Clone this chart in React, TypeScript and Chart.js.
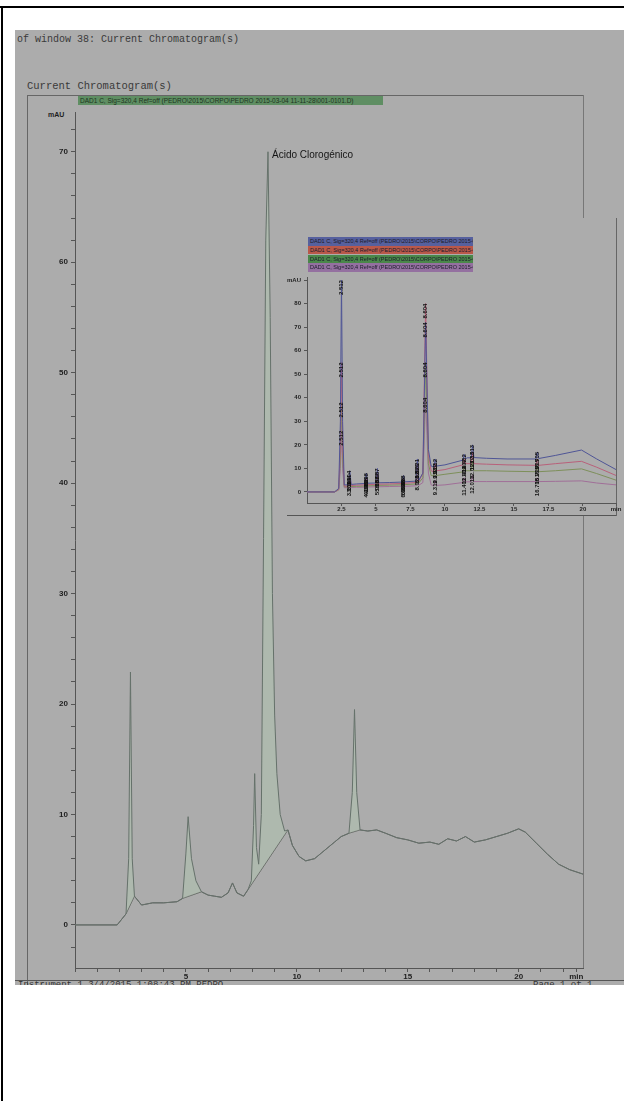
import React, { useEffect, useRef } from "react";
import { Chart, registerables } from "chart.js";
Chart.register(...registerables);

// ---------- main chromatogram ----------
const mainTimes = [0, 1.9, 2.3, 2.42, 2.5, 2.58, 2.68, 3.0, 3.5, 4.0, 4.6, 4.85, 5.0, 5.1, 5.25, 5.45, 5.7, 6.0, 6.3, 6.6, 6.9, 7.1, 7.3, 7.6, 7.8, 7.95, 8.05, 8.1, 8.18, 8.28, 8.4, 8.5, 8.6, 8.7, 8.8, 8.9, 9.0, 9.1, 9.25, 9.45, 9.6, 9.8, 10.1, 10.4, 10.8, 11.1, 11.4, 11.7, 12.0, 12.35, 12.5, 12.6, 12.7, 12.85, 13.2, 13.6, 14.0, 14.5, 15.0, 15.5, 16.0, 16.4, 16.8, 17.2, 17.6, 18.0, 18.5, 19.0, 19.5, 20.0, 20.3, 20.8, 21.3, 21.8, 22.3, 22.9];
const mainSignal = [0, 0, 1.0, 6, 22.9, 6, 2.6, 1.8, 2.0, 2.0, 2.1, 2.4, 6.5, 9.8, 6.0, 4.0, 3.0, 2.7, 2.6, 2.5, 2.9, 3.8, 2.9, 2.6, 3.2, 4.0, 9, 13.7, 7, 5.5, 10, 35, 62, 70, 55, 30, 19, 13.7, 10, 8.5, 8.6, 7.2, 6.2, 5.8, 6.0, 6.5, 7.0, 7.5, 8.0, 8.3, 12, 19.5, 12, 8.6, 8.5, 8.6, 8.3, 7.9, 7.7, 7.4, 7.5, 7.3, 7.8, 7.6, 8.0, 7.5, 7.7, 8.0, 8.3, 8.7, 8.4, 7.4, 6.4, 5.5, 5.0, 4.6];
// integration baseline (straight under the peaks, on the trace elsewhere)
const baseTimes = [0, 1.9, 2.3, 2.68, 3.0, 3.5, 4.0, 4.6, 4.85, 5.7, 6.0, 6.3, 6.6, 6.9, 7.1, 7.3, 7.6, 7.8, 9.6, 9.8, 10.1, 10.4, 10.8, 11.1, 11.4, 11.7, 12.0, 12.35, 12.85, 13.2, 13.6, 14.0, 14.5, 15.0, 15.5, 16.0, 16.4, 16.8, 17.2, 17.6, 18.0, 18.5, 19.0, 19.5, 20.0, 20.3, 20.8, 21.3, 21.8, 22.3, 22.9];
const baseSignal = [0, 0, 1.0, 2.6, 1.8, 2.0, 2.0, 2.1, 2.4, 3.0, 2.7, 2.6, 2.5, 2.9, 3.8, 2.9, 2.6, 3.2, 8.6, 7.2, 6.2, 5.8, 6.0, 6.5, 7.0, 7.5, 8.0, 8.3, 8.6, 8.5, 8.6, 8.3, 7.9, 7.7, 7.4, 7.5, 7.3, 7.8, 7.6, 8.0, 7.5, 7.7, 8.0, 8.3, 8.7, 8.4, 7.4, 6.4, 5.5, 5.0, 4.6];
const mainYLabels = [0, 10, 20, 30, 40, 50, 60, 70];
const mainXLabels = [5, 10, 15, 20];
const peakName = "Ácido Clorogénico";
const peakNameTime = 8.7;
const peakNameValue = 70;

// ---------- inset overlay (4 runs) ----------
const insetTimes = [0, 2.0, 2.3, 2.42, 2.5, 2.58, 2.7, 3.0, 3.1, 3.2, 3.6, 4.2, 4.3, 4.4, 5.0, 5.1, 5.2, 6.0, 6.9, 7.0, 7.1, 7.9, 8.0, 8.1, 8.4, 8.5, 8.6, 8.7, 8.8, 9.0, 9.2, 9.3, 9.4, 10.0, 11.3, 11.4, 11.5, 11.6, 11.9, 12.0, 12.1, 13.0, 14.5, 16.6, 16.7, 16.8, 18.0, 19.9, 21.0, 22.4];
const insetBlue = [0, 0, 1.5, 30, 90, 30, 3, 3, 9, 3.2, 3.4, 3.6, 8, 3.7, 3.8, 10, 3.9, 4.0, 4.2, 7, 4.3, 4.6, 14, 5, 8, 40, 72, 45, 18, 11, 10.5, 14, 11, 11.5, 13.5, 16, 14, 14.5, 14.5, 20, 14.6, 14.3, 14, 14, 17, 14.2, 15.5, 17.8, 14, 9.5];
const insetRed = [0, 0, 1.2, 20, 55, 20, 2.5, 2.5, 7, 2.7, 2.9, 3.0, 6, 3.1, 3.2, 8, 3.3, 3.4, 3.6, 6, 3.7, 4.0, 12, 4.4, 8, 45, 80, 48, 16, 9, 8.5, 12, 9, 9.5, 11.5, 14, 12, 12, 12, 17, 12, 11.8, 11.5, 11.3, 14, 11.3, 12, 13, 10.5, 7];
const insetGreen = [0, 0, 1, 14, 38, 14, 2.2, 2.2, 6, 2.3, 2.4, 2.5, 5, 2.6, 2.7, 6.5, 2.8, 2.9, 3.0, 5, 3.1, 3.4, 10, 3.8, 6, 30, 55, 33, 12, 7, 6.8, 10, 7, 7.5, 8.5, 11, 9, 9, 9, 13, 9, 9, 8.8, 8.6, 11, 8.6, 9, 9.8, 7.8, 5];
const insetPurple = [0, 0, 0.8, 10, 26, 10, 1.8, 1.8, 4.5, 1.9, 2.0, 2.0, 4, 2.1, 2.2, 5, 2.2, 2.3, 2.4, 4, 2.4, 2.6, 7, 2.8, 4, 22, 40, 24, 8, 3, 2.6, 5, 2.8, 3, 4, 6, 4.2, 4.3, 4.3, 7, 4.4, 4.4, 4.4, 4.4, 6, 4.4, 4.5, 4.7, 3.8, 3];
const insetNames = [
  "DAD1 C, Sig=320,4 Ref=off (PEDRO\\2015\\CORPO\\PEDRO 2015-03-04 11-11-28\\001-0101.D)",
  "DAD1 C, Sig=320,4 Ref=off (PEDRO\\2015\\CORPO\\PEDRO 2015-03-04 11-11-28\\002-0201.D)",
  "DAD1 C, Sig=320,4 Ref=off (PEDRO\\2015\\CORPO\\PEDRO 2015-03-04 11-11-28\\003-0301.D)",
  "DAD1 C, Sig=320,4 Ref=off (PEDRO\\2015\\CORPO\\PEDRO 2015-03-04 11-11-28\\004-0401.D)",
];
const insetLineColors = ["#4f5596", "#b8607a", "#7d8f5a", "#a06f98"];
const insetLegendColors = ["#56609e", "#b9584a", "#4a874a", "#9470a0"];
const insetPeakTimes = [2.5, 3.1, 4.3, 5.1, 7.0, 8.0, 8.6, 9.3, 11.4, 12.0, 16.7];
const insetPeakLabels = ["2.512", "3.104", "4.298", "5.087", "6.998", "8.021", "8.604", "9.312", "11.402", "12.013", "16.705"];
const insetYLabels = [0, 10, 20, 30, 40, 50, 60, 70, 80];
const insetXLabels = [2.5, 5, 7.5, 10, 12.5, 15, 17.5, 20];

const FONT = '"Liberation Sans", Arial, sans-serif';
const MONO = '"Liberation Mono", "DejaVu Sans Mono", monospace';

function pts(xs: number[], ys: number[]) {
  return xs.map((x, i) => ({ x, y: ys[i] }));
}

const peakNamePlugin = {
  id: "peakName",
  afterDatasetsDraw(chart: any) {
    const { ctx, scales } = chart;
    const x = scales.x.getPixelForValue(peakNameTime);
    const y = scales.y.getPixelForValue(peakNameValue);
    ctx.save();
    ctx.font = `10px ${FONT}`;
    ctx.fillStyle = "#151515";
    ctx.textBaseline = "middle";
    ctx.textAlign = "left";
    ctx.fillText(peakName, x + 4, y + 3);
    ctx.restore();
  },
};

const insetLabelPlugin = {
  id: "insetLabels",
  afterDatasetsDraw(chart: any) {
    const { ctx, scales } = chart;
    ctx.save();
    ctx.font = `bold 6px ${FONT}`;
    ctx.fillStyle = "#111";
    ctx.textBaseline = "middle";
    ctx.textAlign = "right";
    chart.data.datasets.forEach((ds: any) => {
      insetPeakTimes.forEach((t, k) => {
        const idx = insetTimes.indexOf(t);
        if (idx < 0) return;
        const v = ds.data[idx].y;
        const x = scales.x.getPixelForValue(t);
        const y = Math.max(scales.y.getPixelForValue(v), chart.chartArea.top);
        ctx.save();
        ctx.translate(x, y);
        ctx.rotate(-Math.PI / 2);
        ctx.fillText(insetPeakLabels[k], 0, 0);
        ctx.restore();
      });
    });
    ctx.restore();
  },
};

export default function App() {
  const mainRef = useRef<HTMLCanvasElement | null>(null);
  const insetRef = useRef<HTMLCanvasElement | null>(null);

  useEffect(() => {
    const axisColor = "#555";
    const main = new Chart(mainRef.current!, {
      type: "line",
      data: {
        datasets: [
          {
            label: "DAD1 C, Sig=320,4",
            data: pts(mainTimes, mainSignal),
            borderColor: "#65716a",
            borderWidth: 1,
            pointRadius: 0,
            tension: 0,
            fill: { target: 1, above: "rgba(178,208,178,0.35)", below: "rgba(178,208,178,0.35)" },
          },
          {
            label: "baseline",
            data: pts(baseTimes, baseSignal),
            borderColor: "#626262",
            borderWidth: 1,
            pointRadius: 0,
            tension: 0,
            fill: false,
          },
        ],
      },
      options: {
        animation: false,
        responsive: false,
        maintainAspectRatio: false,
        events: [],
        layout: { padding: { left: 40, right: 41, top: 112, bottom: 12 } },
        plugins: { legend: { display: false }, tooltip: { enabled: false } },
        scales: {
          x: {
            type: "linear",
            min: 0,
            max: 22.9,
            afterBuildTicks: (s: any) => {
              const t: any[] = [];
              for (let i = 0; i <= 22; i++) t.push({ value: i });
              t.push({ value: 22.6 });
              s.ticks = t;
            },
            afterFit: (s: any) => {
              s.height = 20;
            },
            ticks: {
              autoSkip: false,
              maxRotation: 0,
              padding: 0,
              color: "#1e1e1e",
              font: { size: 8, weight: "bold", family: FONT },
              callback: (v: any) => (v === 22.6 ? "min" : mainXLabels.includes(v) ? String(v) : ""),
            },
            grid: { drawOnChartArea: false, tickLength: 4, color: axisColor },
            border: { color: axisColor },
          },
          y: {
            type: "linear",
            min: -3.9,
            max: 73.6,
            afterBuildTicks: (s: any) => {
              const t: any[] = [];
              for (let i = -2; i <= 72; i += 2) t.push({ value: i });
              s.ticks = t;
            },
            afterFit: (s: any) => {
              s.width = 35;
            },
            ticks: {
              autoSkip: false,
              padding: 3,
              color: "#1e1e1e",
              font: { size: 8, weight: "bold", family: FONT },
              callback: (v: any) => (mainYLabels.includes(v) ? String(v) : ""),
            },
            grid: { drawOnChartArea: false, tickLength: 4, color: axisColor },
            border: { color: axisColor },
          },
        },
      },
      plugins: [peakNamePlugin],
    } as any);

    const inset = new Chart(insetRef.current!, {
      type: "line",
      data: {
        datasets: [insetBlue, insetRed, insetGreen, insetPurple].map((arr, i) => ({
          label: insetNames[i],
          data: pts(insetTimes, arr),
          borderColor: insetLineColors[i],
          borderWidth: 1,
          pointRadius: 0,
          tension: 0,
          fill: false,
        })),
      },
      options: {
        animation: false,
        responsive: false,
        maintainAspectRatio: false,
        events: [],
        layout: { padding: { left: 7, right: 8, top: 57, bottom: 5 } },
        plugins: { legend: { display: false }, tooltip: { enabled: false } },
        scales: {
          x: {
            type: "linear",
            min: 0,
            max: 22.4,
            afterBuildTicks: (s: any) => {
              s.ticks = insetXLabels.map((v) => ({ value: v })).concat([{ value: 22.4 }]);
            },
            afterFit: (s: any) => {
              s.height = 12;
            },
            ticks: {
              autoSkip: false,
              maxRotation: 0,
              padding: 0,
              color: "#1e1e1e",
              font: { size: 6, weight: "bold", family: FONT },
              callback: (v: any) => (v === 22.4 ? "min" : String(v)),
            },
            grid: { drawOnChartArea: false, tickLength: 3, color: axisColor },
            border: { color: axisColor },
          },
          y: {
            type: "linear",
            min: -4.7,
            max: 91.3,
            afterBuildTicks: (s: any) => {
              s.ticks = insetYLabels.map((v) => ({ value: v })).concat([{ value: 90 }]);
            },
            afterFit: (s: any) => {
              s.width = 20;
            },
            ticks: {
              autoSkip: false,
              padding: 3,
              color: "#1e1e1e",
              font: { size: 6, weight: "bold", family: FONT },
              callback: (v: any) => (v === 90 ? "mAU" : String(v)),
            },
            grid: { drawOnChartArea: false, tickLength: 3, color: axisColor },
            border: { color: axisColor },
          },
        },
      },
      plugins: [insetLabelPlugin],
    } as any);

    return () => {
      main.destroy();
      inset.destroy();
    };
  }, []);

  const abs = (l: number, t: number, w: number, h: number, extra: any = {}) => ({
    position: "absolute" as const,
    left: l,
    top: t,
    width: w,
    height: h,
    ...extra,
  });

  return (
    <div style={{ position: "absolute", left: 0, top: 0, width: 624, height: 1101, background: "#fff", overflow: "hidden" }}>
      {/* outer black border */}
      <div style={abs(0, 6, 624, 2, { background: "#000" })} />
      <div style={abs(1, 6, 2, 1095, { background: "#000" })} />
      {/* grey window */}
      <div style={abs(15, 30, 609, 955, { background: "#acacac" })} />
      <div style={abs(17, 34, 400, 12, { font: `10px ${MONO}`, color: "#3a3a3a", whiteSpace: "nowrap" })}>
        of window 38: Current Chromatogram(s)
      </div>
      <div style={abs(27, 80, 300, 12, { font: `10.5px ${MONO}`, color: "#3a3a3a", whiteSpace: "nowrap" })}>
        Current Chromatogram(s)
      </div>
      {/* main frame */}
      <div style={abs(27, 95, 557, 1, { background: "#666" })} />
      <div style={abs(27, 95, 1, 890, { background: "#666" })} />
      <div style={abs(583, 95, 1, 123, { background: "#777" })} />
      <div style={abs(583, 515, 1, 453, { background: "#777" })} />
      <div
        style={abs(78, 96, 305, 9, {
          background: "#5f8e63",
          color: "#1d3520",
          font: `6.5px ${FONT}`,
          lineHeight: "9px",
          whiteSpace: "nowrap",
          overflow: "hidden",
          paddingLeft: 2,
          boxSizing: "border-box",
        })}
      >
        DAD1 C, Sig=320,4 Ref=off (PEDRO\2015\CORPO\PEDRO 2015-03-04 11-11-28\001-0101.D)
      </div>
      <div style={abs(48, 111, 20, 9, { font: `bold 7px ${FONT}`, color: "#1e1e1e" })}>mAU</div>
      {/* status bar */}
      <div style={abs(15, 980, 609, 1, { background: "#555" })} />
      <div style={abs(18, 981, 606, 4, { overflow: "hidden" })}>
        <div style={{ font: `9px ${MONO}`, color: "#333", whiteSpace: "nowrap", marginTop: -1 }}>
          Instrument 1 3/4/2015 1:08:43 PM PEDRO
          <span style={{ position: "absolute", left: 515 }}>Page 1 of 1</span>
        </div>
      </div>
      <canvas ref={mainRef} width={624} height={1000} style={abs(0, 0, 624, 1000, { display: "block" })} />
      {/* inset frame */}
      <div style={abs(287, 515, 330, 1, { background: "#555" })} />
      <div style={abs(616, 218, 1, 298, { background: "#666" })} />
      {insetNames.map((n, i) => (
        <div
          key={i}
          style={abs(308, 237 + i * 8.75, 165, 8.5, {
            background: insetLegendColors[i],
            color: "#1b1b2a",
            font: `5.5px ${FONT}`,
            lineHeight: "8.5px",
            whiteSpace: "nowrap",
            overflow: "hidden",
            paddingLeft: 2,
            boxSizing: "border-box",
          })}
        >
          {n}
        </div>
      ))}
      <canvas ref={insetRef} width={344} height={300} style={abs(280, 220, 344, 300, { display: "block" })} />
    </div>
  );
}
